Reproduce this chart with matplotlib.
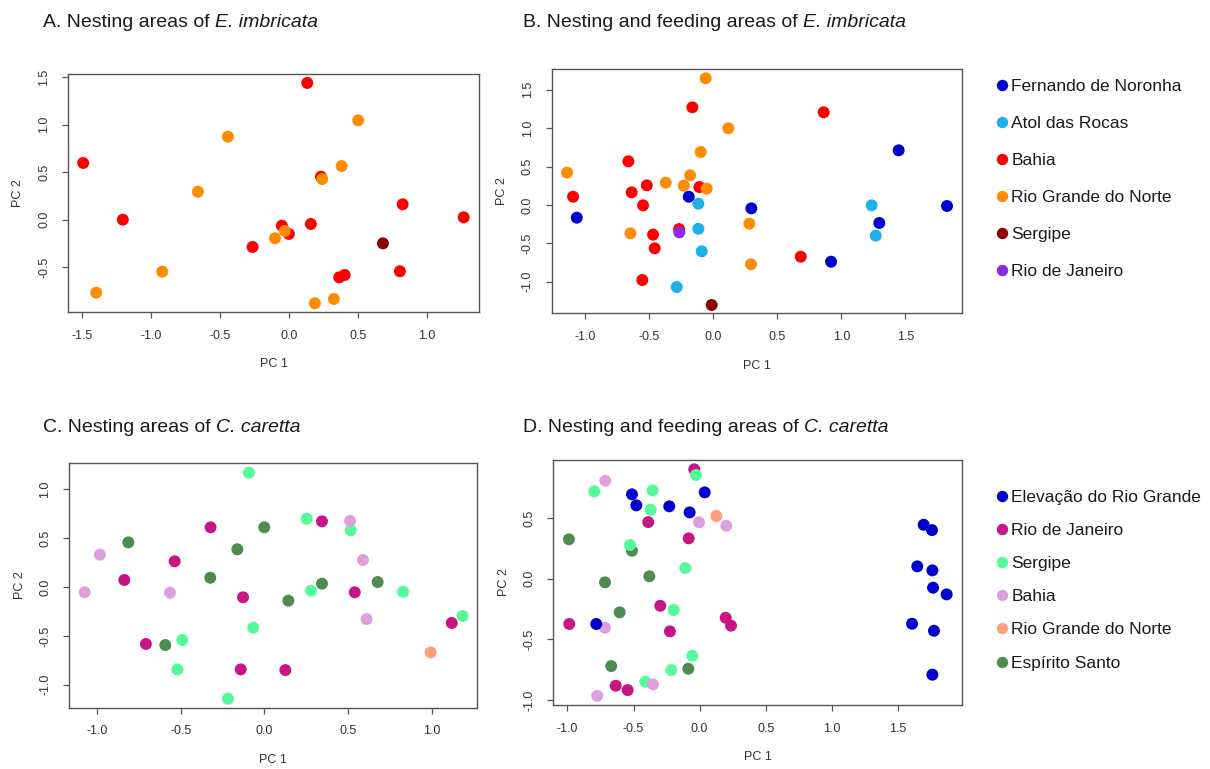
import matplotlib
matplotlib.use("Agg")
import matplotlib.pyplot as plt
from matplotlib.lines import Line2D

plt.rcParams['font.family'] = ['Liberation Sans', 'DejaVu Sans']

# ---- colours (shared names) ----
col_fn = "#0000CD"
col_atol = "#1EB0E6"
col_bahia_e = "#FF0000"
col_rgn_e = "#FF8C00"
col_serg_e = "#8B0000"
col_rj_e = "#8A2BE2"

col_elev = "#0000CD"
col_rj_c = "#C71585"
col_serg_c = "#54FA9C"
col_bahia_c = "#DDA0DD"
col_rgn_c = "#FFA07A"
col_es = "#4E8B4E"

# ---- A. Nesting areas of E. imbricata ----
a_bahia = [(0.133, 1.44), (-1.49, 0.597), (-1.203, 0.0), (0.232, 0.453), (0.824, 0.162),
           (1.266, 0.025), (-0.051, -0.063), (0.0, -0.15), (0.159, -0.045), (-0.263, -0.287),
           (0.365, -0.607), (0.404, -0.582), (0.804, -0.543)]
a_rgn = [(-0.442, 0.874), (0.502, 1.046), (0.382, 0.565), (0.241, 0.428), (-0.659, 0.295),
         (-0.101, -0.196), (-0.029, -0.119), (-0.917, -0.547), (-1.396, -0.768),
         (0.188, -0.88), (0.326, -0.835)]
a_serg = [(0.681, -0.249)]

# ---- B. Nesting and feeding areas of E. imbricata ----
b_fn = [(-1.067, -0.165), (-0.192, 0.108), (0.297, -0.043), (0.92, -0.738),
        (1.297, -0.234), (1.448, 0.712), (1.826, -0.013)]
b_atol = [(-0.117, 0.017), (-0.117, -0.309), (-0.091, -0.603), (-0.286, -1.068),
          (1.237, -0.004), (1.269, -0.399)]
b_bahia = [(-0.164, 1.272), (0.862, 1.207), (-0.664, 0.569), (-0.638, 0.165), (-0.52, 0.256),
           (-0.549, -0.004), (-1.096, 0.108), (-0.109, 0.234), (-0.471, -0.386),
           (-0.458, -0.564), (-0.268, -0.313), (-0.555, -0.977), (0.683, -0.673)]
b_rgn = [(-0.06, 1.65), (0.117, 0.999), (-0.099, 0.69), (-1.143, 0.421), (-0.182, 0.386),
         (-0.372, 0.291), (-0.231, 0.252), (-0.052, 0.213), (-0.648, -0.369),
         (0.281, -0.243), (0.294, -0.772)]
b_serg = [(-0.013, -1.302)]
b_rj = [(-0.266, -0.356)]

# ---- C. Nesting areas of C. caretta ----
c_serg = [(-0.092, 1.17), (0.254, 0.699), (0.517, 0.58), (0.279, -0.038), (0.83, -0.048),
          (1.186, -0.297), (-0.066, -0.416), (-0.49, -0.542), (-0.52, -0.843), (-0.217, -1.143)]
c_rj = [(-0.321, 0.611), (0.345, 0.672), (-0.536, 0.263), (-0.837, 0.072), (-0.127, -0.105),
        (0.541, -0.054), (1.121, -0.368), (-0.708, -0.583), (-0.141, -0.843), (0.126, -0.85)]
c_bahia = [(-0.983, 0.331), (-1.074, -0.054), (-0.564, -0.058), (0.513, 0.676),
           (0.59, 0.276), (0.612, -0.328)]
c_es = [(-0.813, 0.457), (0.0, 0.611), (-0.161, 0.386), (-0.323, 0.095), (0.345, 0.034),
        (0.678, 0.051), (0.144, -0.14), (-0.592, -0.594)]
c_rgn = [(0.995, -0.669)]

# ---- D. Nesting and feeding areas of C. caretta ----
d_elev = [(-0.512, 0.696), (-0.479, 0.605), (-0.23, 0.597), (-0.076, 0.547), (0.038, 0.712),
          (-0.782, -0.373), (1.694, 0.445), (1.757, 0.401), (1.646, 0.102), (1.76, 0.069),
          (1.765, -0.074), (1.868, -0.129), (1.606, -0.371), (1.772, -0.429), (1.76, -0.791)]
d_rj = [(-0.041, 0.902), (-0.389, 0.467), (-0.083, 0.333), (-0.986, -0.373), (-0.298, -0.223),
        (-0.225, -0.434), (0.197, -0.322), (0.237, -0.387), (-0.635, -0.882), (-0.545, -0.918)]
d_serg = [(-0.028, 0.855), (-0.797, 0.72), (-0.356, 0.729), (-0.371, 0.569), (-0.527, 0.278),
          (-0.109, 0.088), (-0.197, -0.258), (-0.056, -0.635), (-0.215, -0.753), (-0.411, -0.849)]
d_bahia = [(-0.714, 0.808), (-0.005, 0.465), (0.201, 0.437), (-0.716, -0.404),
           (-0.353, -0.871), (-0.775, -0.965)]
d_rgn = [(0.126, 0.517)]
d_es = [(-0.989, 0.325), (-0.512, 0.231), (-0.716, -0.03), (-0.381, 0.02), (-0.605, -0.277),
        (-0.669, -0.72), (-0.086, -0.742)]

legend_e_labels = ["Fernando de Noronha", "Atol das Rocas", "Bahia",
                   "Rio Grande do Norte", "Sergipe", "Rio de Janeiro"]
legend_e_colors = [col_fn, col_atol, col_bahia_e, col_rgn_e, col_serg_e, col_rj_e]
legend_c_labels = ["Elevação do Rio Grande", "Rio de Janeiro", "Sergipe", "Bahia",
                   "Rio Grande do Norte", "Espírito Santo"]
legend_c_colors = [col_elev, col_rj_c, col_serg_c, col_bahia_c, col_rgn_c, col_es]

W, H = 1210, 769
fig = plt.figure(figsize=(W / 100, H / 100), dpi=100)


def box(l, t, r, b):
    return [l / W, 1 - b / H, (r - l) / W, (b - t) / H]


def panel(rect, groups, xlim, ylim, xticks, yticks):
    ax = fig.add_axes(rect)
    for pts, c in groups:
        xs = [p[0] for p in pts]
        ys = [p[1] for p in pts]
        ax.scatter(xs, ys, s=74, color=c, edgecolors='none', zorder=3)
    ax.set_xlim(xlim)
    ax.set_ylim(ylim)
    ax.set_xticks(xticks)
    ax.set_yticks(yticks)
    ax.set_xticklabels(["%.1f" % v for v in xticks])
    ax.set_yticklabels(["%.1f" % v for v in yticks], rotation=90, va='center')
    for s in ax.spines.values():
        s.set_color('#555555')
        s.set_linewidth(1.0)
    ax.tick_params(direction='out', length=4.3, width=0.9, color='#555555',
                   labelsize=9, labelcolor='#333333', pad=8.5)
    ax.set_xlabel("PC 1", fontsize=9, color='#333333', labelpad=12)
    ax.set_ylabel("PC 2", fontsize=9, color='#333333', labelpad=10)
    return ax


ax_a = panel(box(68, 74, 479, 312),
             [(a_bahia, col_bahia_e), (a_rgn, col_rgn_e), (a_serg, col_serg_e)],
             (-1.60, 1.377), (-0.972, 1.534),
             [-1.5, -1.0, -0.5, 0.0, 0.5, 1.0], [-0.5, 0.0, 0.5, 1.0, 1.5])

ax_b = panel(box(551.7, 69.3, 962, 313.3),
             [(b_fn, col_fn), (b_atol, col_atol), (b_bahia, col_bahia_e),
              (b_rgn, col_rgn_e), (b_serg, col_serg_e), (b_rj, col_rj_e)],
             (-1.263, 1.943), (-1.41, 1.767),
             [-1.0, -0.5, 0.0, 0.5, 1.0, 1.5], [-1.0, -0.5, 0.0, 0.5, 1.0, 1.5])

ax_c = panel(box(69.3, 463.3, 477, 707.7),
             [(c_serg, col_serg_c), (c_rj, col_rj_c), (c_bahia, col_bahia_c),
              (c_es, col_es), (c_rgn, col_rgn_c)],
             (-1.166, 1.272), (-1.235, 1.266),
             [-1.0, -0.5, 0.0, 0.5, 1.0], [-1.0, -0.5, 0.0, 0.5, 1.0])

ax_d = panel(box(553.3, 460, 962, 705),
             [(d_es, col_es), (d_rj, col_rj_c), (d_serg, col_serg_c),
              (d_bahia, col_bahia_c), (d_rgn, col_rgn_c), (d_elev, col_elev)],
             (-1.107, 1.984), (-1.041, 0.979),
             [-1.0, -0.5, 0.0, 0.5, 1.0, 1.5], [-1.0, -0.5, 0.0, 0.5])

# titles: plain part followed by the italic species name
fig.canvas.draw()
renderer = fig.canvas.get_renderer()
tkw = dict(fontsize=14, color='#1a1a1a', ha='left', va='baseline')
space_w = 14 * 0.278 * 100 / 72  # width of a space in pixels


def title(x, y, plain, species):
    t1 = fig.text(x / W, 1 - y / H, plain, **tkw)
    bb = t1.get_window_extent(renderer)
    fig.text((bb.x1 + space_w) / W, 1 - y / H, species, style='italic', **tkw)


title(43, 26.7, "A. Nesting areas of", "E. imbricata")
title(522.7, 26.7, "B. Nesting and feeding areas of", "E. imbricata")
title(43, 432.3, "C. Nesting areas of", "C. caretta")
title(522.7, 432.3, "D. Nesting and feeding areas of", "C. caretta")


def side_legend(labels, colors, left, top, spacing):
    handles = [Line2D([], [], marker='o', linestyle='none', markersize=8.2,
                      markerfacecolor=c, markeredgecolor='none') for c in colors]
    leg = fig.legend(handles, labels, loc='upper left',
                     bbox_to_anchor=(left / W, 1 - top / H), bbox_transform=fig.transFigure,
                     frameon=False, fontsize=12.5, handlelength=0.8, handletextpad=0.15,
                     labelspacing=spacing, borderpad=0, borderaxespad=0)
    for t in leg.get_texts():
        t.set_color('#1a1a1a')
    return leg


side_legend(legend_e_labels, legend_e_colors, 994.8, 79.2, 1.26)
side_legend(legend_c_labels, legend_c_colors, 994.8, 489.5, 1.04)

fig.savefig("out.png", dpi=100)
